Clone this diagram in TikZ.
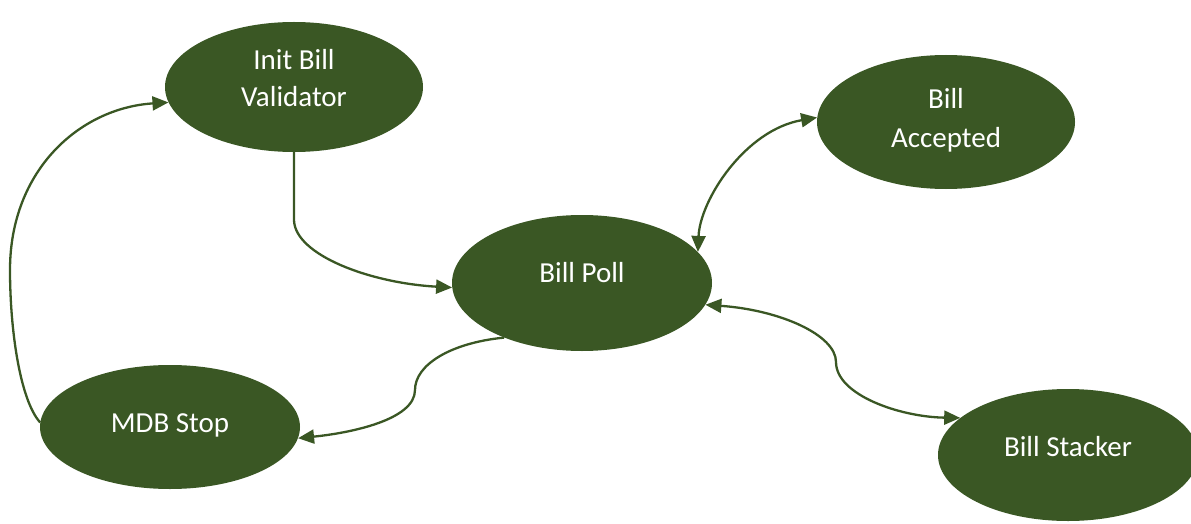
\documentclass[tikz,border=0pt]{standalone}
\usepackage{fontspec}
\setmainfont{Carlito}
\usetikzlibrary{shapes.geometric,arrows.meta}
\definecolor{dgreen}{HTML}{3A5724}
\tikzset{
  blob/.style={ellipse, fill=dgreen, draw=none, inner sep=0pt},
  txt/.style={text=white, inner sep=0pt, anchor=base, font=\fontsize{29}{35}\selectfont},
  conn/.style={draw=dgreen, line width=2.3pt, -{Triangle[length=16pt,width=14pt]}},
  conn2/.style={draw=dgreen, line width=2.3pt, {Triangle[length=16pt,width=14pt]}-{Triangle[length=16pt,width=14pt]}}
}
\begin{document}
\begin{tikzpicture}[x={(1pt,0)}, y={(0,-1pt)}]
\useasboundingbox (0,0) rectangle (1191,524);
% nodes
\node[blob, minimum width=258pt, minimum height=130pt] (init) at (294,87) {};
\node[blob, minimum width=258pt, minimum height=134pt] (acc) at (946,122) {};
\node[blob, minimum width=260pt, minimum height=136pt] (poll) at (582,283) {};
\node[blob, minimum width=260pt, minimum height=124pt] (mdb) at (170,427) {};
\node[blob, minimum width=260pt, minimum height=132pt] (stack) at (1068,455) {};
% texts
\node[txt] (initA) at (294,69.5) {Init Bill};
\node[txt] (initB) at (294,107) {Validator};
\node[txt] (accA) at (946,109) {Bill};
\node[txt] (accB) at (946,147) {Accepted};
\node[txt] (pollA) at (582,282) {Bill Poll};
\node[txt] (mdbA) at (170,432) {MDB Stop};
\node[txt] (stackA) at (1068,456) {Bill Stacker};
% connectors
\draw[conn] (mdb.178) .. controls (20,400) and (10,330) .. (10,270)
  .. controls (10,170) and (80,108) .. (init.187);
\draw[conn] (init.south) -- ++(0,68) .. controls (295,255) and (370,283) .. (poll.182);
\draw[conn] (poll.215) .. controls (450,343) and (415,365) .. (415,390)
  .. controls (415,420) and (350,433) .. (mdb.355);
\draw[conn2] (poll.15) .. controls (700,200) and (745,130) .. (acc.178);
\draw[conn2] (poll.350) .. controls (780,310) and (836,335) .. (836,362)
  .. controls (836,395) and (900,417) .. (stack.161);
\end{tikzpicture}
\end{document}
